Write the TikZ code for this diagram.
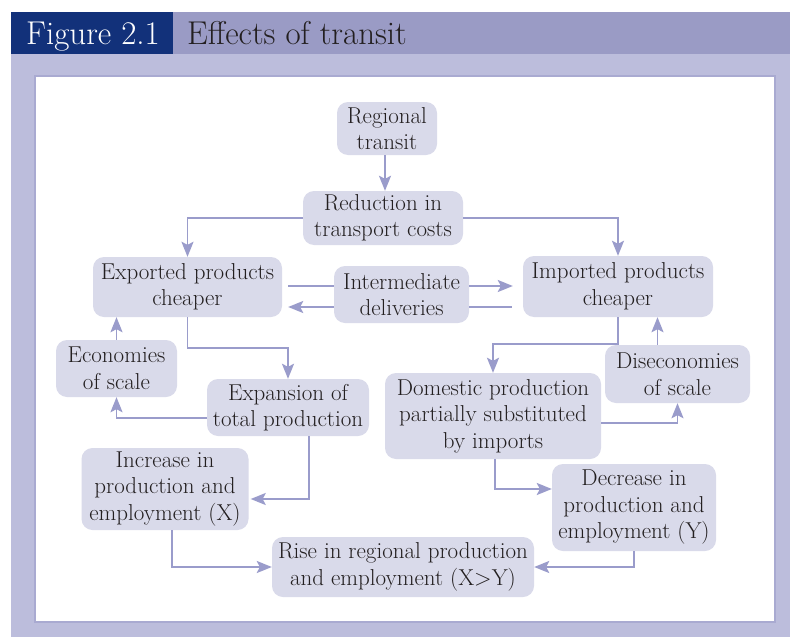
\documentclass[tikz,border=0pt]{standalone}
\usepackage{fontspec}
\usetikzlibrary{arrows.meta}
\definecolor{navy}{HTML}{12317A}
\definecolor{band}{HTML}{9A9BC5}
\definecolor{frame}{HTML}{BCBDDC}
\definecolor{rim}{HTML}{A9AAD1}
\definecolor{boxfill}{HTML}{D9DAEA}
\definecolor{arrcol}{HTML}{9A9CCB}
\definecolor{ink}{HTML}{231F20}
\begin{document}
\begin{tikzpicture}[x=1pt,y=-1pt,
  box/.style={fill=boxfill,rounded corners=11pt,align=center,text=ink,inner sep=0pt,font=\fontsize{23}{26.5}\selectfont},
  arr/.style={draw=arrcol,line width=1.8pt,-{Stealth[length=15pt,width=12pt,inset=3pt]}},
  link/.style={draw=arrcol,line width=1.8pt},
  head/.style={anchor=base,inner sep=0pt,font=\fontsize{33}{38}\selectfont}]
\useasboundingbox (0,0) rectangle (790,637);
\fill[frame] (11,54) rectangle (790,637);
\fill[navy] (11,12) rectangle (173,54);
\fill[band] (173,12) rectangle (790,54);
\filldraw[fill=white,draw=rim,line width=1.2pt] (35,76) rectangle (775,622);
\node[head,text=white] (fig) at (93,44) {Figure 2.1};
\node[head,anchor=base west,text=ink] (title) at (187,44) {Effects of transit};
\node[box,minimum width=100pt,minimum height=53pt] (trans) at (387,128.5) {Regional\\transit};
\node[box,minimum width=160pt,minimum height=54pt] (cost) at (383,218) {Reduction in\\transport costs};
\node[box,minimum width=189pt,minimum height=60pt] (expo) at (187.5,287) {Exported products\\cheaper};
\node[box,minimum width=135pt,minimum height=57pt] (inter) at (401.5,294.5) {Intermediate\\deliveries};
\node[box,minimum width=190pt,minimum height=61pt] (impo) at (618,286.5) {Imported products\\cheaper};
\node[box,minimum width=121pt,minimum height=57pt] (econ) at (116.5,368.5) {Economies\\of scale};
\node[box,minimum width=162pt,minimum height=57pt] (expan) at (288,407.5) {Expansion of\\total production};
\node[box,minimum width=145pt,minimum height=58pt] (disec) at (677.5,374) {Diseconomies\\of scale};
\node[box,minimum width=216pt,minimum height=86pt] (dome) at (493,416) {Domestic production\\partially substituted\\by imports};
\node[box,minimum width=167pt,minimum height=82pt] (incr) at (165,489) {Increase in\\production and\\employment (X)};
\node[box,minimum width=164pt,minimum height=87pt] (decr) at (634,507.5) {Decrease in\\production and\\employment (Y)};
\node[box,minimum width=262pt,minimum height=60pt] (rise) at (403,567) {Rise in regional production\\and employment (X>Y)};
\coordinate (upper) at (0,286);
\coordinate (lower) at (0,307);
\draw[arr] ([xshift=-2pt]trans.south) -- ([xshift=-2pt]trans.south |- cost.north);
\draw[arr] (cost.west) -| (expo.north);
\draw[arr] (cost.east) -| (impo.north);
\draw[link,shorten <=6pt] (expo.east |- upper) -- (inter.west |- upper);
\draw[arr,shorten >=6pt] (inter.west |- lower) -- (expo.east |- lower);
\draw[arr,shorten >=10pt] (inter.east |- upper) -- (impo.west |- upper);
\draw[link,shorten <=11pt] (impo.west |- lower) -- (inter.east |- lower);
\draw[arr] (expo.south) -- ++(0,31) -| (expan.north);
\draw[arr] (econ.north) -- (econ.north |- expo.south);
\draw[arr] ([yshift=-10.5pt]expan.west) -| (econ.south);
\draw[arr,shorten >=2pt] ([xshift=21pt]expan.south) |- ([yshift=-10pt]incr.east);
\draw[arr] ([xshift=7pt]incr.south) |- (rise.west);
\draw[arr] (impo.south) -- ++(0,27) -| (dome.north);
\draw[arr] ([xshift=-20pt]disec.north) -- ([xshift=-20pt]disec.north |- impo.south);
\draw[arr] ([yshift=-7pt]dome.east) -| (disec.south);
\draw[arr] ([xshift=2pt]dome.south) |- ([yshift=18.5pt]decr.west);
\draw[arr] (decr.south) |- (rise.east);
\end{tikzpicture}
\end{document}
